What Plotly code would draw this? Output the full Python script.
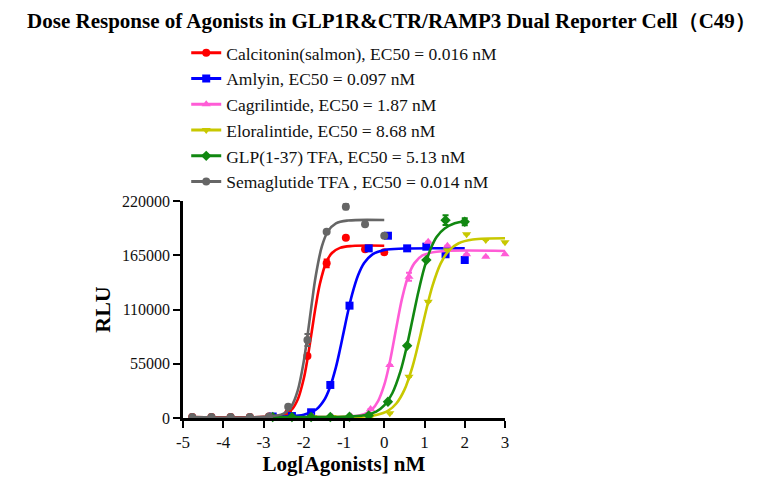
import plotly.graph_objects as go

x_top1 = [-4.771, -4.294, -3.817, -3.340, -2.863, -2.386, -1.908, -1.431, -0.954, -0.477, 0.0]
x_top100 = [-2.771, -2.294, -1.817, -1.340, -0.863, -0.386, 0.092, 0.569, 1.046, 1.523, 2.0]
x_top1000 = [-1.771, -1.294, -0.817, -0.340, 0.138, 0.615, 1.092, 1.569, 2.046, 2.523, 3.0]

calcitonin_y = [1000, 1000, 1000, 1000, 1500, 5000, 62900, 156800, 182700, 171000, 168000]
calcitonin_err = [0, 0, 0, 0, 0, 0, 0, 4000, 0, 0, 0]
amlyin_y = [1500, 2000, 5800, 33500, 113900, 172000, 184800, 172000, 173700, 166000, 160200]
amlyin_err = [0, 0, 0, 0, 0, 0, 0, 0, 0, 0, 0]
cagri_y = [1000, 1000, 1500, 9000, 53700, 143200, 178700, 174700, 166000, 163500, 166000]
cagri_err = [0, 0, 0, 0, 0, 4000, 0, 0, 0, 0, 0]
elora_y = [1000, 1000, 1000, 1500, 4800, 41900, 117900, 170000, 186200, 180500, 178100]
elora_err = [0, 0, 0, 0, 0, 0, 0, 0, 0, 0, 0]
glp_y = [1000, 1000, 1000, 1000, 1200, 2500, 16500, 73300, 160200, 200600, 199000]
glp_err = [0, 0, 0, 0, 0, 0, 0, 0, 0, 5000, 3500]
sema_y = [1000, 1000, 1000, 1000, 1500, 11500, 79100, 188900, 214200, 196400, 184800]
sema_err = [0, 0, 0, 0, 0, 0, 6000, 0, 2500, 0, 0]

# ---- fitted curves
calcitonin_cx = [-4.771, -3.0, -2.5, -2.3, -2.15, -2.0, -1.9, -1.8, -1.7, -1.6, -1.45, -1.3, -1.1, -0.8, 0.0]
calcitonin_cy = [1000, 1100, 3200, 8400, 18700, 39900, 61800, 87900, 113900, 135800, 157000, 167300, 172500, 174400, 174700]
sema_cx = [-4.771, -3.0, -2.5, -2.3, -2.15, -2.0, -1.9, -1.8, -1.7, -1.55, -1.4, -1.2, -0.9, 0.0]
sema_cy = [1000, 1200, 4500, 12500, 27800, 57400, 85500, 116200, 144400, 173900, 189200, 197300, 200200, 200700]
amlyin_cx = [-2.771, -2.0, -1.7, -1.5, -1.35, -1.2, -1.1, -1.01, -0.9, -0.8, -0.65, -0.5, -0.3, 0.0, 0.5, 2.0]
amlyin_cy = [1500, 3300, 8300, 17700, 31000, 51600, 69400, 86800, 107900, 125100, 144700, 157200, 165700, 170400, 171800, 172000]
cagri_cx = [-1.771, -0.8, -0.5, -0.3, -0.15, 0.0, 0.1, 0.2, 0.27, 0.35, 0.45, 0.6, 0.75, 0.95, 1.3, 3.0]
cagri_cy = [1000, 1600, 3800, 8900, 17400, 33500, 49600, 69700, 85200, 102700, 122500, 144400, 157000, 164800, 168600, 169300]
glp_cx = [-2.771, -1.5, -1.0, -0.5, -0.2, 0.0, 0.2, 0.4, 0.55, 0.71, 0.85, 1.0, 1.15, 1.3, 1.5, 1.75, 2.0]
glp_cy = [1000, 1000, 1200, 2700, 6500, 12700, 25100, 47000, 70800, 101400, 128200, 152900, 171200, 183600, 192100, 197400, 199400]
elora_cx = [-1.771, -0.5, -0.2, 0.1, 0.3, 0.5, 0.7, 0.85, 0.94, 1.05, 1.2, 1.4, 1.6, 1.85, 2.2, 3.0]
elora_cy = [1000, 1600, 3100, 7500, 14700, 28500, 51900, 75800, 91600, 110800, 134200, 156500, 169500, 177200, 180900, 182200]

names = ['Calcitonin(salmon), EC50 = 0.016 nM',
         'Amlyin, EC50 = 0.097 nM',
         'Cagrilintide, EC50 = 1.87 nM',
         'Eloralintide, EC50 = 8.68 nM',
         'GLP(1-37) TFA, EC50 = 5.13 nM',
         'Semaglutide TFA , EC50 = 0.014 nM']

x_ticks = [-5, -4, -3, -2, -1, 0, 1, 2, 3]
x_ticktext = ['-5', '-4', '-3', '-2', '-1', '0', '1', '2', '3']
y_ticks = [0, 55000, 110000, 165000, 220000]

series = [
    (x_top1, calcitonin_y, calcitonin_err, calcitonin_cx, calcitonin_cy, '#FF0000', 'circle'),
    (x_top100, amlyin_y, amlyin_err, amlyin_cx, amlyin_cy, '#0000FF', 'square'),
    (x_top1000, cagri_y, cagri_err, cagri_cx, cagri_cy, '#FF5CD6', 'triangle-up'),
    (x_top1000, elora_y, elora_err, elora_cx, elora_cy, '#C8C800', 'triangle-down'),
    (x_top100, glp_y, glp_err, glp_cx, glp_cy, '#118811', 'diamond'),
    (x_top1, sema_y, sema_err, sema_cx, sema_cy, '#666666', 'circle'),
]

serif = 'Liberation Serif'
fig = go.Figure()

for name, (xs, ys, err, cx, cy, color, sym) in zip(names, series):
    fig.add_trace(go.Scatter(x=cx, y=cy, mode='lines', line=dict(color=color, width=2.6, shape='spline'),
                             showlegend=False, hoverinfo='skip', cliponaxis=False))
    fig.add_trace(go.Scatter(x=xs, y=ys, mode='markers', showlegend=False,
                             marker=dict(color=color, symbol=sym, size=8),
                             error_y=dict(type='data', array=err, color=color, thickness=2, width=3),
                             cliponaxis=False))
    # legend glyph: line + marker, no data of its own
    fig.add_trace(go.Scatter(x=[None], y=[None], mode='lines+markers', name=name,
                             line=dict(color=color, width=3),
                             marker=dict(color=color, symbol=sym, size=8)))

fig.update_layout(
    width=767, height=492,
    paper_bgcolor='white', plot_bgcolor='white',
    margin=dict(l=175, r=270, t=193, b=82),
    font=dict(family=serif, size=16, color='#111111'),
    title=dict(text='<b>Dose Response of Agonists in GLP1R&CTR/RAMP3 Dual Reporter Cell（C49）</b>',
               x=0.5, xanchor='center', y=0.975, yanchor='middle',
               font=dict(family=serif, size=21, color='black')),
    legend=dict(x=0.01, y=1.765, xanchor='left', yanchor='top', bgcolor='rgba(0,0,0,0)',
                font=dict(family=serif, size=17.5, color='#111111'), itemwidth=30),
    showlegend=True,
)

fig.update_xaxes(range=[-5, 3], tickmode='array', tickvals=x_ticks, ticktext=x_ticktext,
                 showgrid=False, zeroline=False, showline=True, linecolor='black', linewidth=2.5,
                 ticks='outside', ticklen=7, tickwidth=2, tickcolor='black',
                 tickfont=dict(family=serif, size=17, color='#111111'),
                 title=dict(text='<b>Log[Agonists] nM</b>', font=dict(family=serif, size=21, color='black'),
                            standoff=6))
fig.update_yaxes(range=[0, 220000], tickmode='array', tickvals=y_ticks,
                 ticktext=[str(v) for v in y_ticks],
                 showgrid=False, zeroline=False, showline=True, linecolor='black', linewidth=2.5,
                 ticks='outside', ticklen=7, tickwidth=2, tickcolor='black',
                 tickfont=dict(family=serif, size=16, color='#111111'),
                 title=dict(text='<b>RLU</b>', font=dict(family=serif, size=22, color='black'), standoff=6))

fig.write_html("out.html")
